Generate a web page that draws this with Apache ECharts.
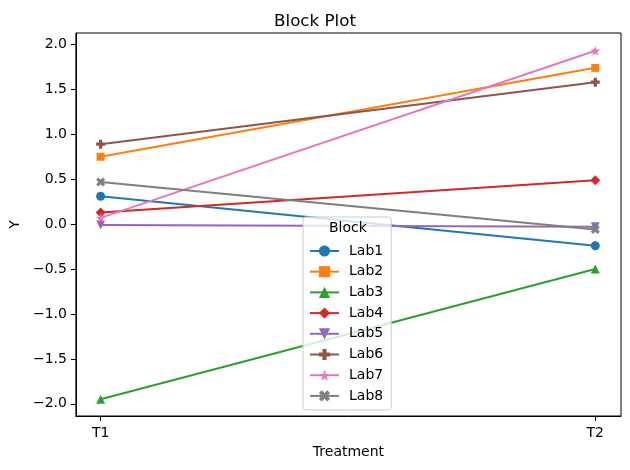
<!DOCTYPE html>
<html>
<head>
<meta charset="utf-8">
<script src="https://cdn.jsdelivr.net/npm/echarts@6/dist/echarts.min.js"></script>
<style>
html, body { margin: 0; padding: 0; background: #fff; }
#chart { width: 630px; height: 470px; }
</style>
</head>
<body>
<div id="chart"></div>
<script>
// treatments on the x axis (0 = T1, 1 = T2)
const treatments = ['T1', 'T2'];
const labs = ['Lab1', 'Lab2', 'Lab3', 'Lab4', 'Lab5', 'Lab6', 'Lab7', 'Lab8'];
const lab1 = [0.31, -0.24];
const lab2 = [0.75, 1.74];
const lab3 = [-1.95, -0.50];
const lab4 = [0.13, 0.49];
const lab5 = [-0.01, -0.03];
const lab6 = [0.89, 1.58];
const lab7 = [0.07, 1.93];
const lab8 = [0.47, -0.06];
const yTicks = [-2.0, -1.5, -1.0, -0.5, 0.0, 0.5, 1.0, 1.5, 2.0];

const colors = ['#1f77b4', '#ff7f0e', '#2ca02c', '#d62728', '#9467bd', '#8c564b', '#e377c2', '#7f7f7f'];
const starPath = 'path://M100,0L122.3,69.3L195.1,69.1L136.1,111.7L158.8,180.9L100,138L41.2,180.9L63.9,111.7L4.9,69.1L77.7,69.3Z';
const plusPath = 'path://M-1.1,-3H1.1V-1.1H3V1.1H1.1V3H-1.1V1.1H-3V-1.1H-1.1Z';
const xPath = 'path://M0,1.5L1.5,0L3,1.5L4.5,0L6,1.5L4.5,3L6,4.5L4.5,6L3,4.5L1.5,6L0,4.5L1.5,3Z';
const symbols = ['circle', 'rect', 'triangle', 'diamond', 'triangle', plusPath, starPath, xPath];
const sizes = [9, 8, 9, 10, 9, 9, 10, 9];
const rotates = [0, 0, 0, 0, 180, 0, 0, 0];
const allData = [lab1, lab2, lab3, lab4, lab5, lab6, lab7, lab8];

let chart = echarts.init(document.getElementById('chart'));

let series = labs.map(function (name, i) {
    return {
        name: name,
        type: 'line',
        data: allData[i].map(function (v, j) { return [j, v]; }),
        symbol: symbols[i],
        symbolSize: sizes[i],
        symbolRotate: rotates[i],
        showAllSymbol: true,
        lineStyle: { width: 2, color: colors[i] },
        itemStyle: { color: colors[i] },
        emphasis: { disabled: true },
        z: 2 + i
    };
});

let option = {
    animation: false,
    textStyle: { fontFamily: 'DejaVu Sans' },
    title: [{
        text: 'Block Plot',
        left: 'center',
        top: 8,
        textStyle: { fontSize: 16.7, fontWeight: 'normal', color: '#000', fontFamily: 'DejaVu Sans' }
    }],
    grid: {
        left: 73, right: 9, top: 33, bottom: 54,
        show: true, borderColor: '#000', borderWidth: 1
    },
    legend: {
        orient: 'vertical',
        left: 303,
        top: 217,
        data: labs,
        itemWidth: 29,
        itemHeight: 14,
        itemGap: 6.7,
        padding: [27, 8, 7, 6],
        backgroundColor: 'rgba(255,255,255,0.8)',
        borderColor: '#cccccc',
        borderWidth: 1,
        borderRadius: 3,
        textStyle: { fontSize: 14, color: '#000', fontFamily: 'DejaVu Sans', padding: [0, 0, 0, 5] },
        z: 20
    },
    graphic: [{
        type: 'text',
        left: 329,
        top: 221,
        z: 30,
        style: { text: 'Block', fontSize: 14, fill: '#000', fontFamily: 'DejaVu Sans' }
    }],
    xAxis: {
        type: 'value',
        min: -0.05,
        max: 1.052,
        name: 'Treatment',
        nameLocation: 'middle',
        nameGap: 29,
        nameTextStyle: { fontSize: 14, color: '#000' },
        splitLine: { show: false },
        axisLine: { show: true, onZero: false, lineStyle: { color: '#000' } },
        axisTick: { show: true, length: 5, lineStyle: { color: '#000' }, customValues: [0, 1] },
        axisLabel: {
            fontSize: 14, color: '#000', margin: 10,
            customValues: [0, 1],
            formatter: function (v) { return treatments[Math.round(v)]; }
        }
    },
    yAxis: {
        type: 'value',
        min: -2.136,
        max: 2.128,
        name: 'Y',
        nameLocation: 'middle',
        nameGap: 53,
        nameTextStyle: { fontSize: 14, color: '#000' },
        splitLine: { show: false },
        axisLine: { show: true, onZero: false, lineStyle: { color: '#000' } },
        axisTick: { show: true, length: 5, lineStyle: { color: '#000' }, customValues: yTicks },
        axisLabel: {
            fontSize: 14, color: '#000', margin: 9,
            customValues: yTicks,
            formatter: function (v) { return v.toFixed(1).replace('-', '\u2212'); }
        }
    },
    series: series
};

chart.setOption(option);
</script>
</body>
</html>
